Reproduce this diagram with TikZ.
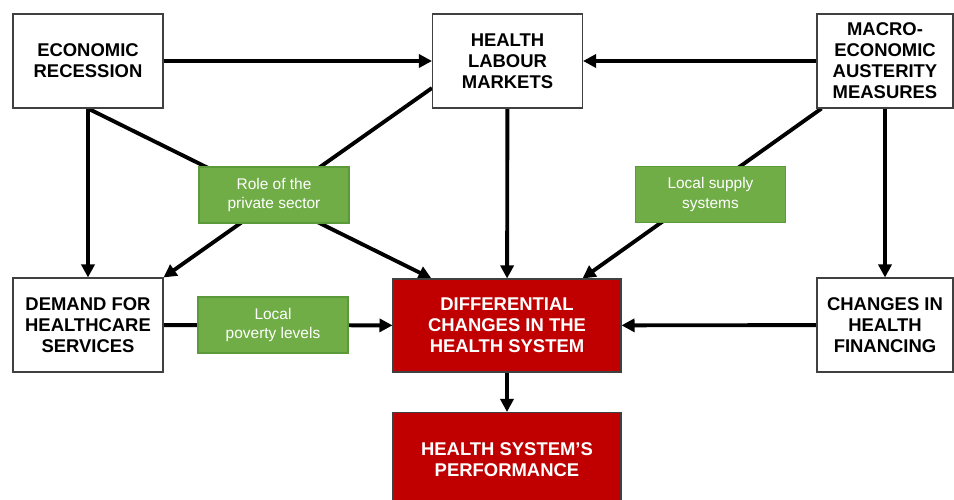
\documentclass[tikz,border=0pt]{standalone}
\usepackage{fontspec}
\setmainfont{Liberation Sans}
\usetikzlibrary{arrows.meta,backgrounds}
\definecolor{boxred}{HTML}{C00000}
\definecolor{boxgreen}{HTML}{70AD47}
\definecolor{edgegreen}{HTML}{5B9A3A}
\tikzstyle{factor} = [draw=black!75,line width=0.6pt,fill=white,minimum width=3cm,minimum height=1.88cm,align=center,inner sep=0pt,font=\bfseries\fontsize{10.5}{12}\selectfont]
\tikzstyle{outcome} = [factor,fill=boxred,text=white,minimum width=4.56cm]
\tikzstyle{context} = [draw=edgegreen,line width=0.6pt,fill=boxgreen,text=white,minimum width=3cm,minimum height=1.12cm,align=center,inner sep=0pt,font=\fontsize{8.8}{11}\selectfont]
\tikzstyle{link} = [line width=2.2pt,-{Triangle[length=0.26cm,width=0.26cm]}]

\begin{document}
\begin{tikzpicture}[x=0.02cm,y=-0.02cm]
		\useasboundingbox (0,0) rectangle (954,500);
		\clip (0,0) rectangle (954,500);
		\node[factor] (er) at (88,61) {ECONOMIC\\RECESSION};
		\node[factor] (hlm) at (507.5,61) {HEALTH\\LABOUR\\MARKETS};
		\node[factor,minimum width=2.72cm] (macro) at (885,61) {MACRO-\\ECONOMIC\\AUSTERITY\\MEASURES};
		\node[factor] (demand) at (88,325) {DEMAND FOR\\HEALTHCARE\\SERVICES};
		\node[outcome,minimum height=1.86cm] (diff) at (507,325.5) {DIFFERENTIAL\\CHANGES IN THE\\HEALTH SYSTEM};
		\node[factor,minimum width=2.72cm] (changes) at (885,325) {CHANGES IN\\HEALTH\\FINANCING};
		\node[outcome,minimum height=1.9cm] (perf) at (507,460) {HEALTH SYSTEM’S\\PERFORMANCE};
		\node[context] (private) at (274,195) {Role of the\\private sector};
		\node[context] (supply) at (710.5,194.5) {Local supply\\systems};
		\node[context] (poverty) at (273,325) {Local\\poverty levels};
		\begin{scope}[on background layer]
		\draw[link] (er) -- (hlm);
		\draw[link] (macro) -- (hlm);
		\draw[link] (er.south) -- (demand.north);
		\draw[link] (er.south) -- ([xshift=0.78cm]diff.north west);
		\draw[link] ([yshift=-0.54cm]hlm.west) -- (demand.north east);
		\draw[link] (hlm) -- (diff);
		\draw[link] ([xshift=0.1cm]macro.south west) -- ([xshift=-0.78cm]diff.north east);
		\draw[link] (macro) -- (changes);
		\draw[link] (demand) -- (diff);
		\draw[link] (changes) -- (diff);
		\draw[link] (diff) -- (perf);
		\end{scope}
\end{tikzpicture}
\end{document}
